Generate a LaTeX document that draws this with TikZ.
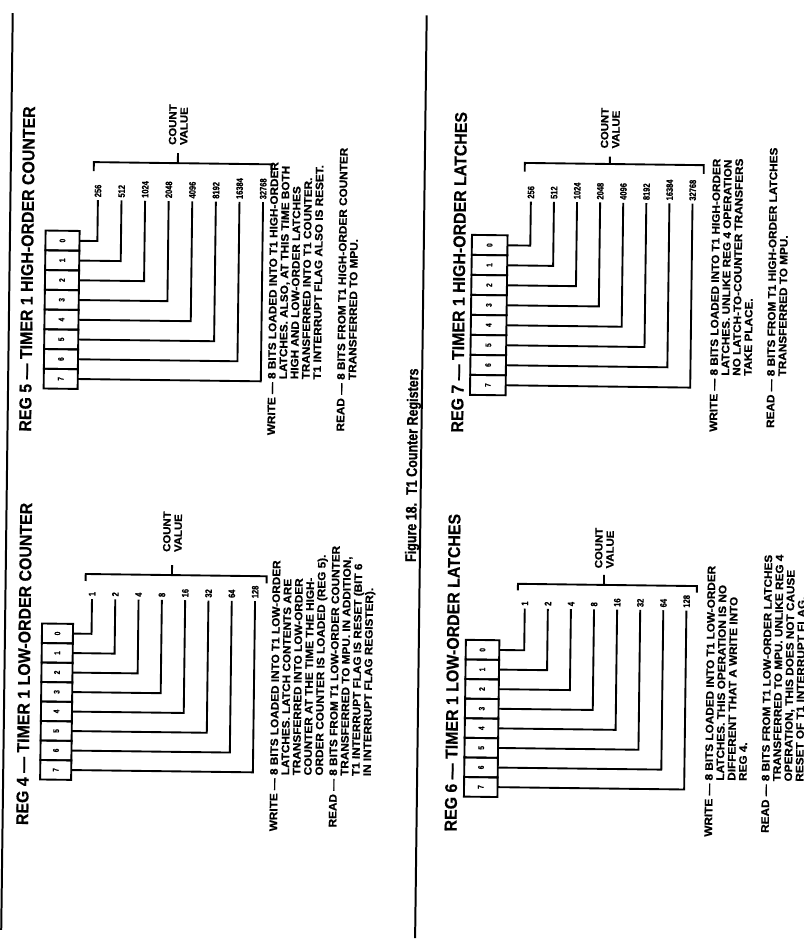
\documentclass[tikz,border=0pt]{standalone}
\usepackage{fontspec}
\setmainfont{Liberation Sans}
\newfontfamily\titlef[FakeStretch=0.93,FakeBold=0.5]{Liberation Sans}
\newfontfamily\bodyf[FakeStretch=1.08,FakeBold=0.8]{Liberation Sans}
\newfontfamily\valf[FakeStretch=0.8,FakeBold=0.8]{Liberation Sans}
\newfontfamily\capf[FakeStretch=0.82,FakeBold=1.2]{Liberation Sans}
\usepackage{graphicx}
\tikzset{
  wire/.style={line width=1.6pt},
  sepline/.style={line width=1.7pt},
  cellbox/.style={draw, line width=1.6pt, inner sep=0pt, outer sep=0pt,
    minimum width=\bw*0.03cm, minimum height=\ch*0.03cm,
    font=\valf\bfseries\fontsize{7}{7}\selectfont},
  vallabel/.style={rotate=90, anchor=west, inner sep=0pt, outer sep=0.09cm,
    font=\valf\bfseries\fontsize{8}{8}\selectfont},
  cvlabel/.style={rotate=90, anchor=west, inner sep=0pt, align=left,
    font=\bodyf\bfseries\fontsize{9}{9.6}\selectfont},
  titlelabel/.style={rotate=90, anchor=base west, inner sep=0pt,
    font=\titlef\bfseries\fontsize{14.6}{16}\selectfont},
  txtblock/.style={rotate=90, anchor=base west, inner sep=0pt,
    font=\bodyf\bfseries\fontsize{9.3}{9.65}\selectfont},
  caplabel/.style={rotate=90, anchor=base west, inner sep=0pt,
    font=\capf\bfseries\fontsize{13}{14}\selectfont}
}
\newcommand\regpanel[2]{%
  \foreach \k in {0,...,7}{%
    \node[cellbox] (#1c\k) at ({\bx+\bw/2},{\by+\ch*(\k+0.5)}) {\rotatebox{90}{\k}};
  }
  \foreach \v [count=\j from 0] in {#2}{%
    \node[vallabel] (#1v\j) at ({\vx+\vs*\j},\vt) {\v};
    \draw[wire] (#1c\j.east) -| (#1v\j.west);
  }
  \coordinate (#1b1) at (\brl,\brt);
  \coordinate (#1b2) at (\brl,\bry);
  \coordinate (#1b3) at (\brr,\bry);
  \coordinate (#1b4) at (\brr,\brt);
  \coordinate (#1bm) at (\bmx,\bry);
  \coordinate (#1bt) at (\bmx,\bmt);
  \draw[wire] (#1b1) -- (#1b2) -- (#1b3) -- (#1b4);
  \draw[wire] (#1bm) -- (#1bt);
  \node[cvlabel] (#1cv) at (\bmx,\cvb) {COUNT\\VALUE};
}
\begin{document}
\begin{tikzpicture}[x=0.03cm, y=-0.03cm]
\fill[white] (0,0) rectangle (803,943);
\useasboundingbox (0,0) rectangle (803,943);
\begin{scope}[rotate around={-0.72:(401.5,471.5)}, every node/.append style={transform shape}]
% separator lines
\coordinate (L1) at (7,18);
\coordinate (L2) at (7,935);
\coordinate (M1) at (421,15);
\coordinate (M2) at (421,938);
\draw[sepline] (L1) -- (L2);
\draw[sepline] (M1) -- (M2);

% ---------- Panel A : REG 5 ----------
\def\bx{42.6}\def\by{235}\def\bw{34}\def\ch{19.75}
\def\vx{94.5}\def\vs{23.6}\def\vt{204}
\def\bry{166}\def\brl{90}\def\brr{268}\def\brt{175}\def\bmx{174}\def\bmt{156}\def\cvb{148}
\regpanel{A}{256,512,1024,2048,4096,8192,16384,32768}
\node[titlelabel] (Atitle) at (30.5,436.5) {REG 5 — TIMER 1 HIGH-ORDER COUNTER};
\node[txtblock] (Atext) at (274.4,437) {\begin{tabular}[t]{@{}r@{ }l@{}}
WRITE — & 8 BITS LOADED INTO T1 HIGH-ORDER\\
 & LATCHES. ALSO, AT THIS TIME BOTH\\
 & HIGH AND LOW-ORDER LATCHES\\
 & TRANSFERRED INTO T1 COUNTER.\\
 & T1 INTERRUPT FLAG ALSO IS RESET.\\[10.8pt]
READ — & 8 BITS FROM T1 HIGH-ORDER COUNTER\\
 & TRANSFERRED TO MPU.
\end{tabular}};

% ---------- Panel B : REG 4 ----------
\def\bx{44}\def\by{628}\def\bw{31}\def\ch{19.5}
\def\vx{93.6}\def\vs{23.3}\def\vt{603}
\def\bry{578}\def\brl{87}\def\brr{268}\def\brt{585}\def\bmx{173.3}\def\bmt{568}\def\cvb{555}
\regpanel{B}{1,2,4,8,16,32,64,128}
\node[titlelabel] (Btitle) at (32.5,830) {REG 4 — TIMER 1 LOW-ORDER COUNTER};
\node[txtblock] (Btext) at (281.5,833) {\begin{tabular}[t]{@{}r@{ }l@{}}
WRITE — & 8 BITS LOADED INTO T1 LOW-ORDER\\
 & LATCHES. LATCH CONTENTS ARE\\
 & TRANSFERRED INTO LOW-ORDER\\
 & COUNTER AT THE TIME THE HIGH-\\
 & ORDER COUNTER IS LOADED (REG 5).\\[2.3pt]
READ — & 8 BITS FROM T1 LOW-ORDER COUNTER\\
 & TRANSFERRED TO MPU. IN ADDITION,\\
 & T1 INTERRUPT FLAG IS RESET (BIT 6\\
 & IN INTERRUPT FLAG REGISTER).
\end{tabular}};

% ---------- Panel C : REG 7 ----------
\def\bx{469}\def\by{234}\def\bw{35.6}\def\ch{20}
\def\vx{527.5}\def\vs{23.1}\def\vt{200}
\def\bry{161.4}\def\brl{521}\def\brr{700}\def\brt{170}\def\bmx{606}\def\bmt{154}\def\cvb{146}
\regpanel{C}{256,512,1024,2048,4096,8192,16384,32768}
\node[titlelabel] (Ctitle) at (462.5,432) {REG 7 — TIMER 1 HIGH-ORDER LATCHES};
\node[txtblock] (Ctext) at (716.5,428) {\begin{tabular}[t]{@{}r@{ }l@{}}
WRITE — & 8 BITS LOADED INTO T1 HIGH-ORDER\\
 & LATCHES. UNLIKE REG 4 OPERATION\\
 & NO LATCH-TO-COUNTER TRANSFERS\\
 & TAKE PLACE.\\[10pt]
READ — & 8 BITS FROM T1 HIGH-ORDER LATCHES\\
 & TRANSFERRED TO MPU.
\end{tabular}};

% ---------- Panel D : REG 6 ----------
\def\bx{468}\def\by{639}\def\bw{33.5}\def\ch{19.6}
\def\vx{526.5}\def\vs{23.1}\def\vt{607}
\def\bry{582.4}\def\brl{519.4}\def\brr{698.4}\def\brt{589}\def\bmx{605.4}\def\bmt{572.4}\def\cvb{566}
\regpanel{D}{1,2,4,8,16,32,64,128}
\node[titlelabel] (Dtitle) at (461,831) {REG 6 — TIMER 1 LOW-ORDER LATCHES};
\node[txtblock] (Dtext) at (716.5,833) {\begin{tabular}[t]{@{}r@{ }l@{}}
WRITE — & 8 BITS LOADED INTO T1 LOW-ORDER\\
 & LATCHES. THIS OPERATION IS NO\\
 & DIFFERENT THAT A WRITE INTO\\
 & REG 4.\\[9.8pt]
READ — & 8 BITS FROM T1 LOW-ORDER LATCHES\\
 & TRANSFERRED TO MPU. UNLIKE REG 4\\
 & OPERATION, THIS DOES NOT CAUSE\\
 & RESET OF T1 INTERRUPT FLAG.
\end{tabular}};

% caption
\node[caplabel] (caption) at (417,562) {Figure 18. \ T1 Counter Registers};
\end{scope}
\end{tikzpicture}
\end{document}
